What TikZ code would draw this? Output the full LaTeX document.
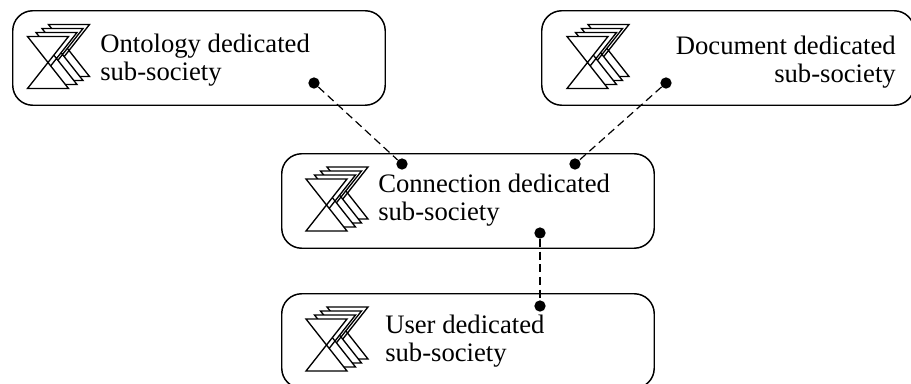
\documentclass[tikz,border=0pt]{standalone}
\usepackage{fontspec}
\setmainfont{Liberation Serif}
\usetikzlibrary{positioning}
\tikzset{
  societybox/.style={draw,line width=1.1pt,rounded corners=15,minimum width=372.5*0.75pt,minimum height=94.5*0.75pt,inner sep=0pt},
  societytext/.style={inner sep=0pt,font=\fontsize{20}{21.5}\selectfont},
  enddot/.style={circle,fill=black,inner sep=0pt,minimum size=8.5pt},
  sheet/.style={draw,fill=white,line width=1pt,line join=miter},
  linkline/.style={line width=0.9pt,dash pattern=on 6pt off 3.5pt},
  pics/agents/.style={code={
    \foreach \dx/\dy in {21/-12,14.5/-8,8.5/-4,0/0}
      \draw[sheet] (\dx,\dy) -- (\dx+41,\dy) -- (\dx,\dy+52) -- (\dx+41,\dy+52) -- cycle;
  }}
}

\begin{document}
\begin{tikzpicture}[x=0.75pt,y=0.75pt,yscale=-1]
\useasboundingbox (0,0) rectangle (911,383);
\clip (0,0) rectangle (911,383);

%boxes
\node [societybox,anchor=north west] (ontologybox) at (12,10) {};
\node [societybox,anchor=north west] (documentbox) at (541,10) {};
\node [societybox,anchor=north west] (connectionbox) at (281,153) {};
\node [societybox,anchor=north west] (userbox) at (281,293) {};

%agent icons
\path (27.5,36.5) pic [transform shape] {agents};
\path (567,36.5) pic [transform shape] {agents};
\path (306,179) pic [transform shape] {agents};
\path (306,319) pic [transform shape] {agents};

%texts
\node [societytext,anchor=west,align=left] (ontologytext) at (100,60) {Ontology dedicated\\sub-society};
\node [societytext,anchor=east,align=right] (documenttext) at (896,62) {Document dedicated\\sub-society};
\node [societytext,anchor=west,align=left] (connectiontext) at (378,200) {Connection dedicated\\sub-society};
\node [societytext,anchor=west,align=left] (usertext) at (385,341) {User dedicated\\sub-society};

%connectors
\node [enddot] (ontologydot) at (314,83) {};
\node [enddot] (connectiondot1) at (402,164) {};
\node [enddot] (documentdot) at (666,83) {};
\node [enddot] (connectiondot2) at (575,164) {};
\node [enddot] (connectiondot3) at (540,233) {};
\node [enddot] (userdot) at (540,306) {};

\draw [linkline] (ontologydot) -- (connectiondot1);
\draw [linkline] (documentdot) -- (connectiondot2);
\draw [linkline] (connectiondot3) -- (userdot);

\end{tikzpicture}
\end{document}
